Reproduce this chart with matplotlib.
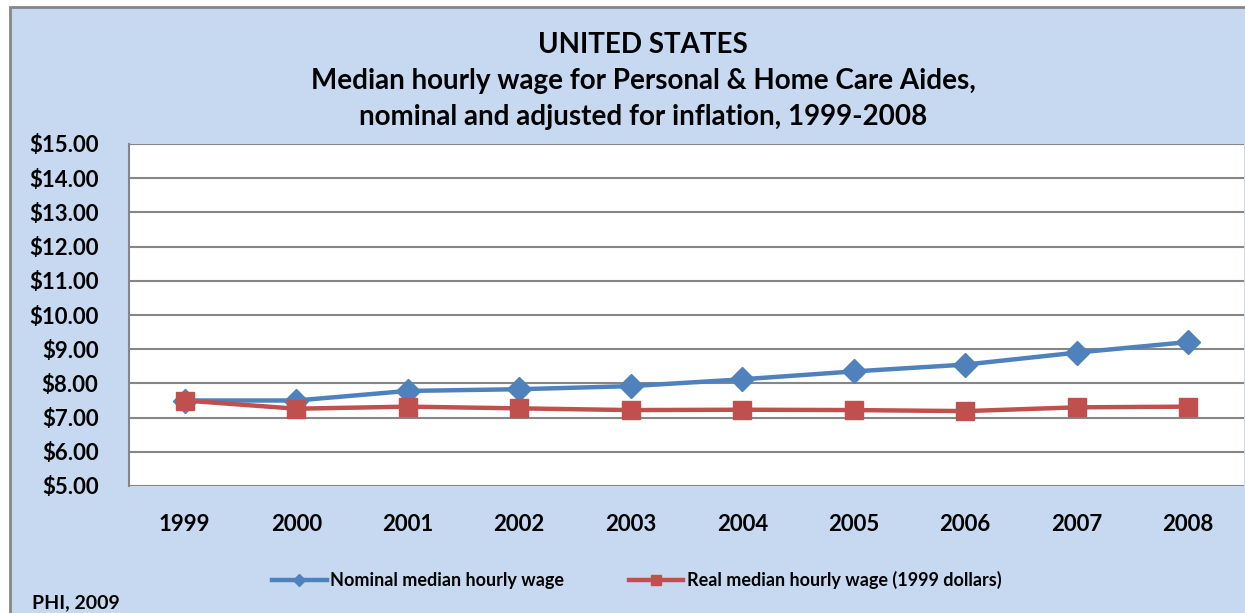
import matplotlib
matplotlib.use("Agg")
import matplotlib.pyplot as plt
from matplotlib.patches import Rectangle
from matplotlib.ticker import FuncFormatter

years = ["1999", "2000", "2001", "2002", "2003", "2004", "2005", "2006", "2007", "2008"]
nominal = [7.50, 7.50, 7.78, 7.83, 7.92, 8.12, 8.35, 8.55, 8.90, 9.21]
real = [7.50, 7.26, 7.32, 7.27, 7.22, 7.23, 7.22, 7.19, 7.30, 7.32]

BLUE = "#4F81BD"
RED = "#C0504D"
BG = "#C6D9F1"
GRID = "#868686"

plt.rcParams["font.family"] = ["Lato", "DejaVu Sans"]
plt.rcParams["font.weight"] = "bold"

fig = plt.figure(figsize=(12.45, 6.13), dpi=100, facecolor="white")
# chart area: light blue box with grey border, starting a few px in from top-left
fig.patches.append(Rectangle((10 / 1245, -0.05), 1.1, 1 - 7 / 613 + 0.05,
                             transform=fig.transFigure, facecolor=BG,
                             edgecolor=GRID, linewidth=2, zorder=-10))

ax = fig.add_axes([129 / 1245, 127 / 613, 1115 / 1245, 342 / 613])
ax.set_facecolor("white")

x = range(len(years))
ax.plot(x, nominal, color=BLUE, linewidth=3.2, marker="D", markersize=12,
        label="Nominal median hourly wage", zorder=3)
ax.plot(x, real, color=RED, linewidth=3.2, marker="s", markersize=13,
        label="Real median hourly wage (1999 dollars)", zorder=4)

ax.set_xlim(-0.5, len(years) - 0.5)
ax.set_ylim(5, 15)
ax.set_yticks(range(5, 16))
ax.yaxis.set_major_formatter(FuncFormatter(lambda v, p: f"${v:.2f}"))
ax.set_xticks(list(x))
ax.set_xticklabels(years)
ax.tick_params(axis="y", length=0, pad=22, labelsize=16)
ax.tick_params(axis="x", length=0, pad=20, labelsize=16)
ax.grid(axis="y", color=GRID, linewidth=1.5)
ax.set_axisbelow(True)
for s in ("top", "right", "bottom"):
    ax.spines[s].set_visible(False)
ax.spines["left"].set_color(GRID)
ax.spines["left"].set_linewidth(1.5)

fig.text(643 / 1245, 1 - 45 / 613, "UNITED STATES", ha="center", va="center", fontsize=20)
fig.text(643 / 1245, 1 - 81 / 613, "Median hourly wage for Personal & Home Care Aides,",
         ha="center", va="center", fontsize=20)
fig.text(643 / 1245, 1 - 117 / 613, "nominal and adjusted for inflation, 1999-2008",
         ha="center", va="center", fontsize=20)

fig.legend(loc="center", bbox_to_anchor=(637 / 1245, 1 - 580 / 613), ncol=2,
           frameon=False, fontsize=13, handlelength=3, handletextpad=0.2,
           columnspacing=3.6, markerscale=0.5)

fig.text(32 / 1245, 1 - 603 / 613, "PHI, 2009", ha="left", va="center", fontsize=14)

fig.savefig("out.png", dpi=100)
